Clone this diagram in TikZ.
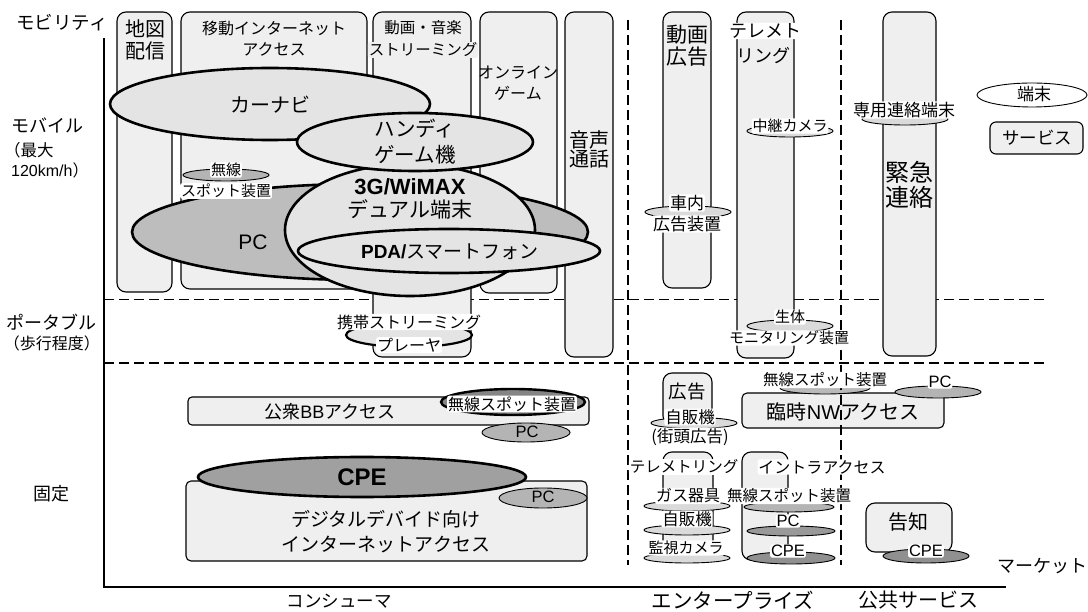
\documentclass[tikz,border=0pt]{standalone}
\usepackage{fontspec}
\setmainfont{Noto Sans CJK JP}
\newfontfamily\lat{Liberation Sans}
\newcommand\fs[2]{\fontsize{#1}{#2}\selectfont}
\definecolor{boxg}{HTML}{EFEFEF}
\definecolor{elll}{HTML}{E4E4E4}
\definecolor{pcg}{HTML}{BDBDBD}
\definecolor{midg}{HTML}{B4B4B4}
\definecolor{lightg}{HTML}{DADADA}
\definecolor{darkg}{HTML}{858585}
\definecolor{cpeg}{HTML}{A0A0A0}
\newcommand\lbl[4][]{\node[lbltxt,#1] (#2) at (#3) {#4};}
\begin{document}
\begin{tikzpicture}[x=1pt,y=-1pt,
  box/.style={draw=black,line width=1.1pt,fill=boxg,rounded corners=9pt},
  boxs/.style={draw=black,line width=1.1pt,fill=boxg,rounded corners=4pt},
  bigell/.style={draw=black,line width=2.6pt},
  smell/.style={draw=black,line width=0.9pt},
  grid/.style={line width=1.2pt,dash pattern=on 10pt off 5pt},
  axis/.style={line width=2pt},
  lbltxt/.style={inner sep=0pt,align=center},
  halo/.style={fill=white,inner sep=0.8pt,rounded corners=2pt}]
\useasboundingbox (0,0) rectangle (1088,612);
\fill[white] (0,0) rectangle (1088,612);
% horizontal grid
\coordinate (h1a) at (104,299.5); \coordinate (h1b) at (1045,299.5);
\coordinate (h2a) at (104,363); \coordinate (h2b) at (1045,363);
\draw[grid] (h1a) -- (h1b);
\draw[grid] (h2a) -- (h2b);
% mobile boxes
\path[box] (117,12) rectangle (172,292);
\path[box] (181,12) rectangle (367,289);
\path[box] (373,12) rectangle (471,357);
\path[box] (480,12) rectangle (557,293);
\path[box] (565,12) rectangle (613,357);
\path[box] (663,12) rectangle (711,288);
\path[box] (737,12) rectangle (794,358);
\path[box] (883,12) rectangle (936,356);
\path[boxs,rounded corners=6pt] (990,122) rectangle (1083,154);
% mobile ellipses
\path[bigell,fill=pcg] (360,232) ellipse [x radius=228pt,y radius=48pt];
\path[bigell,fill=elll] (410,230) ellipse [x radius=125pt,y radius=66pt];
\path[bigell,fill=elll] (270,104) ellipse [x radius=160pt,y radius=36pt];
\path[bigell,fill=elll] (415,142) ellipse [x radius=118pt,y radius=29pt];
\path[bigell,fill=elll] (449,251) ellipse [x radius=151pt,y radius=22pt];
\path[smell,fill=midg] (226,175) ellipse [x radius=43pt,y radius=6pt];
\path[smell,fill=lightg] (688,212) ellipse [x radius=43pt,y radius=6pt];
\path[smell,fill=lightg] (790,131) ellipse [x radius=43pt,y radius=6pt];
\path[smell,fill=lightg] (790,326) ellipse [x radius=43pt,y radius=6pt];
\path[smell,fill=lightg] (905,119) ellipse [x radius=43pt,y radius=6pt];
\path[bigell,line width=2.2pt,fill=elll] (409,335) ellipse [x radius=63pt,y radius=12pt];
\path[smell,fill=white] (1032,95) ellipse [x radius=55pt,y radius=12pt];
% fixed boxes and ellipses
\path[boxs] (188,397) rectangle (589,425);
\path[bigell,line width=2.4pt,fill=darkg] (513,402) ellipse [x radius=72pt,y radius=13pt];
\path[smell,fill=midg] (526,432.5) ellipse [x radius=44pt,y radius=9.5pt];
\path[boxs,rounded corners=5pt] (186,481) rectangle (587,561);
\path[bigell,fill=cpeg] (362,477) ellipse [x radius=164pt,y radius=20pt];
\path[smell,fill=midg] (543,498) ellipse [x radius=44pt,y radius=10pt];
\path[box] (663,373) rectangle (712,425);
\path[smell,fill=lightg] (694,423) ellipse [x radius=43pt,y radius=5.5pt];
\path[boxs,rounded corners=5pt] (742,393) rectangle (944,428);
\path[smell,fill=lightg!85!black] (825,388) ellipse [x radius=45pt,y radius=6pt];
\path[smell,fill=midg] (938,392) ellipse [x radius=43pt,y radius=6pt];
\path[box] (663,452) rectangle (713,555);
\path[box] (742,452) rectangle (788,560);
\path[smell,fill=lightg] (687,506) ellipse [x radius=43pt,y radius=5pt];
\path[smell,fill=lightg] (687,530) ellipse [x radius=43pt,y radius=5pt];
\path[smell,fill=lightg] (687,558) ellipse [x radius=43pt,y radius=5pt];
\path[smell,fill=midg] (789,507) ellipse [x radius=45pt,y radius=5pt];
\path[smell,fill=midg!85!black] (791,531) ellipse [x radius=44pt,y radius=5pt];
\path[smell,fill=cpeg!90!black] (791,558) ellipse [x radius=44pt,y radius=6pt];
\path[box] (866,503) rectangle (952,552);
\path[smell,fill=cpeg!90!black] (926,556) ellipse [x radius=43pt,y radius=7pt];
% vertical grid
\coordinate (v1a) at (628,20); \coordinate (v1b) at (628,565);
\coordinate (v2a) at (841,20); \coordinate (v2b) at (841,565);
\draw[grid] (v1a) -- (v1b);
\draw[grid] (v2a) -- (v2b);
% axes
\coordinate (top) at (104,38); \coordinate (org) at (104,587); \coordinate (right) at (1006,587);
\draw[axis] (top) -- (org) -- (right);
% labels: box texts
\lbl[font=\fs{20}{22}]{tz}{145,40}{地図\\配信}
\lbl[font=\fs{16}{21}]{idou}{274,38.5}{移動インターネット\\アクセス}
\lbl[font=\fs{15.5}{15.5}]{douga1}{423,28}{動画・音楽}
\lbl[font=\fs{15.5}{15.5},halo,fill=boxg]{douga2}{423,50}{ストリーミング}
\lbl[font=\fs{16}{21}]{online}{518,83.5}{オンライン\\ゲーム}
\lbl[font=\fs{20}{19}]{onsei}{589,149}{音声\\通話}
\lbl[font=\fs{21}{22}]{dkoukoku}{687.5,46}{動画\\広告}
\lbl[font=\fs{18}{18},halo]{tele1}{765,31}{テレメト}
\lbl[font=\fs{18}{18}]{tele2}{763,56}{リング}
\lbl[font=\fs{24}{25}]{kinkyu}{909,184.5}{緊急\\連絡}
\lbl[font=\fs{20}{22}]{carnavi}{270,105}{カーナビ}
\lbl[font=\fs{20.5}{26}]{handy}{415,141.5}{ハンディ\\ゲーム機}
\lbl[font=\fs{21}{23}]{dual}{410,198.5}{{\lat\bfseries\fs{22}{23}3G/WiMAX}\\デュアル端末}
\lbl[font=\lat\fs{21}{22}]{pcbig}{253,242}{PC}
\lbl[font=\fs{19}{22}]{pda}{450,252}{{\lat\bfseries PDA/}スマートフォン}
\lbl[font=\fs{15}{15},halo]{musen1a}{226,170}{無線}
\lbl[font=\fs{15}{15},halo]{musen1b}{226,191}{スポット装置}
\lbl[font=\fs{16}{16},halo]{keitai1}{409,322}{携帯ストリーミング}
\lbl[font=\fs{16}{16},halo]{keitai2}{409,345}{プレーヤ}
\lbl[font=\fs{17}{17},halo]{shanai1}{687,203}{車内}
\lbl[font=\fs{17}{17},halo]{shanai2}{687,224}{広告装置}
\lbl[font=\fs{15}{15},halo]{chukei}{790,126}{中継カメラ}
\lbl[font=\fs{15}{15},halo]{seitai1}{790,317}{生体}
\lbl[font=\fs{15}{15},halo]{seitai2}{789,338}{モニタリング装置}
\lbl[font=\fs{17}{17},halo]{senyo}{904,110}{専用連絡端末}
\lbl[font=\fs{17}{20}]{tanmatsu}{1034,94}{端末}
\lbl[font=\fs{17.5}{20}]{service}{1037,138}{サービス}
% fixed
\lbl[font=\fs{18}{20}]{koshu}{330,412}{公衆{\lat BB}アクセス}
\lbl[font=\fs{16}{16},halo]{musen2}{512,404}{無線スポット装置}
\lbl[font=\lat\fs{16.5}{18}]{pc2}{527,432}{PC}
\lbl[font=\lat\bfseries\fs{24}{26}]{cpebig}{362,477}{CPE}
\lbl[font=\lat\fs{16.5}{18}]{pc3}{543,497}{PC}
\lbl[font=\fs{19}{25}]{digital}{386,531.5}{デジタルデバイド向け\\インターネットアクセス}
\lbl[font=\fs{18.5}{20}]{koukoku}{687,392}{広告}
\lbl[font=\fs{16.5}{16.5},halo]{jihan1a}{690,417}{自販機}
\lbl[font=\fs{16.5}{16.5},halo]{jihan1b}{690,437}{(街頭広告)}
\lbl[font=\fs{15.5}{18},halo]{musen3}{825,380}{無線スポット装置}
\lbl[font=\lat\fs{16.5}{18},halo]{pc4}{940,382}{PC}
\lbl[font=\fs{20}{22}]{rinji}{843,412}{臨時{\lat NW}アクセス}
\lbl[font=\fs{15.5}{18},halo]{tele3}{684,467}{テレメトリング}
\lbl[font=\fs{16}{18},halo]{intra}{822,467}{イントラアクセス}
\lbl[font=\fs{16}{18},halo]{gas}{688,496}{ガス器具}
\lbl[font=\fs{15.5}{18},halo]{musen4}{789,496}{無線スポット装置}
\lbl[font=\fs{16.5}{18},halo]{jihan2}{687,519}{自販機}
\lbl[font=\lat\fs{16.5}{18},halo]{pc5}{788,521}{PC}
\lbl[font=\fs{15}{18},halo]{kanshi}{686,548}{監視カメラ}
\lbl[font=\lat\fs{16.5}{18},halo]{cpe2}{788,551}{CPE}
\lbl[font=\fs{20}{22}]{kokuchi}{908,522}{告知}
\lbl[font=\lat\fs{16.5}{18},halo]{cpe3}{926,551}{CPE}
% axis labels
\lbl[font=\fs{18.5}{20}]{mobility}{62,23}{モビリティ}
\lbl[font=\fs{18}{20},anchor=west]{mobile}{11,125}{モバイル}
\lbl[font=\fs{16.5}{18},anchor=west]{maxa}{4,150}{（最大}
\lbl[font=\fs{16}{18},anchor=west]{maxb}{11,170}{{\lat 120km/h}）}
\lbl[font=\fs{18}{20}]{portable}{51,322}{ポータブル}
\lbl[font=\fs{16}{18}]{hoko}{52,343}{（歩行程度）}
\lbl[font=\fs{18}{20}]{kotei}{52,494}{固定}
\lbl[font=\fs{17.5}{20}]{consumer}{339,601}{コンシューマ}
\lbl[font=\fs{20.5}{22}]{enterprise}{733,600}{エンタープライズ}
\lbl[font=\fs{20}{22}]{public}{918,600}{公共サービス}
\lbl[font=\fs{18}{20}]{market}{1042,566}{マーケット}
\end{tikzpicture}
\end{document}
